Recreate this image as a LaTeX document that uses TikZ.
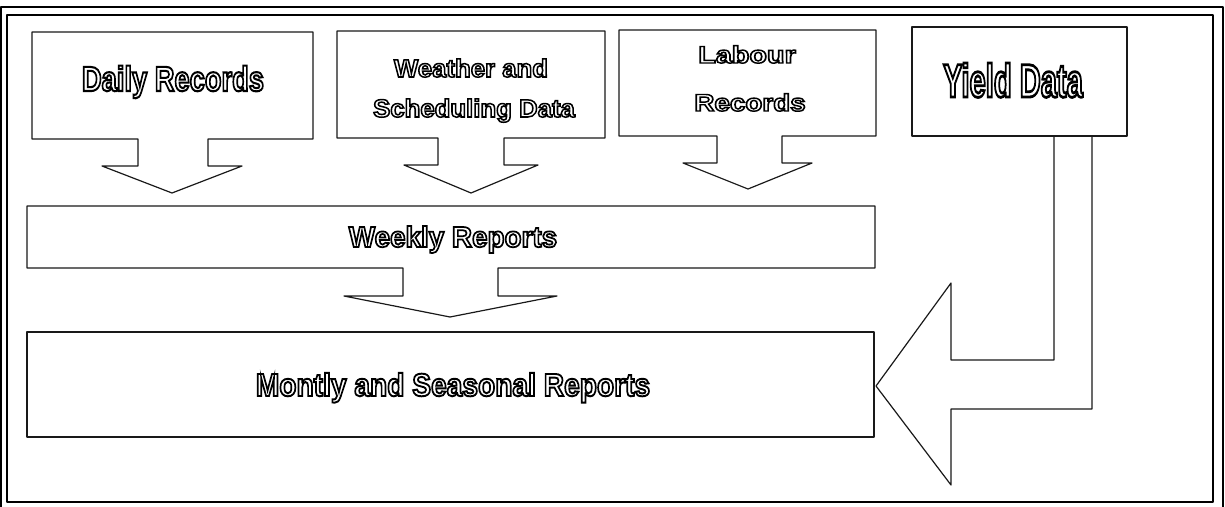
\documentclass[tikz,border=0pt]{standalone}
\usepackage{fontspec}
\usepackage{graphicx}
\usepackage{tkz-euclide}
\newfontfamily\blockfont[FakeBold=6]{Liberation Sans Bold}
\definecolor{LineClr}{rgb}{0.1,0.1,0.1}
\newcommand{\lblfont}[1]{\blockfont\fontsize{#1}{#1}\selectfont}
\newcommand{\narrow}[2]{\special{pdf:bcolor [1] [0]}\scalebox{#1}[1]{#2}\special{pdf:ecolor}}

\begin{document}
\begin{tikzpicture}[x=1pt,y=-1pt,
  lbl/.style={inner sep=0pt,anchor=base}]
\tkzSetUpLine[line width=1.2pt,color=LineClr]
\useasboundingbox (0,0) rectangle (1225,506);

\tkzDefPoints{1/512/Oa,1/7/Ob,1223/7/Oc,1223/512/Od}
\tkzDefPoints{7/15/Ia,1213/15/Ib,1213/502/Ic,7/502/Id}
\tkzDrawPolygon[line width=2pt,color=black](Oa,Ob,Oc,Od)
\tkzDrawPolygon[line width=2pt,color=black](Ia,Ib,Ic,Id)

\tkzDefPoints{32/32/Da,313/32/Db,313/139/Dc,208/139/Dd,208/166/De,242/166/Df,172/193/Dg,102/166/Dh,138/166/Di,138/139/Dj,32/139/Dk}
\tkzDrawPolygon(Da,Db,Dc,Dd,De,Df,Dg,Dh,Di,Dj,Dk)

\tkzDefPoints{337/31/Wa,605/31/Wb,605/138/Wc,504/138/Wd,504/165/We,538/165/Wf,471/193/Wg,404/165/Wh,438/165/Wi,438/138/Wj,337/138/Wk}
\tkzDrawPolygon(Wa,Wb,Wc,Wd,We,Wf,Wg,Wh,Wi,Wj,Wk)

\tkzDefPoints{619/30/La,876/30/Lb,876/136/Lc,782/136/Ld,782/163/Le,812/163/Lf,748/189/Lg,683/163/Lh,717/163/Li,717/136/Lj,619/136/Lk}
\tkzDrawPolygon(La,Lb,Lc,Ld,Le,Lf,Lg,Lh,Li,Lj,Lk)

\tkzDefPoints{912/27/Ya,1127/27/Yb,1127/136/Yc,912/136/Yd}
\tkzDrawPolygon(Ya,Yb,Yc,Yd)

\tkzDefPoints{27/206/Ka,875/206/Kb,875/268/Kc,498/268/Kd,498/296/Ke,557/296/Kf,450/317/Kg,344/296/Kh,403/296/Ki,403/268/Kj,27/268/Kk}
\tkzDrawPolygon(Ka,Kb,Kc,Kd,Ke,Kf,Kg,Kh,Ki,Kj,Kk)

\tkzDefPoints{27/332/Ma,874/332/Mb,874/437/Mc,27/437/Md}
\tkzDrawPolygon(Ma,Mb,Mc,Md)

\tkzDefPoints{1054/136/Ra,1054/360/Rb,951/360/Rc,951/283/Rd,876/386/Re,951/485/Rf,951/409/Rg,1092/409/Rh,1092/136/Ri}
\tkzDrawPolygon(Ra,Rb,Rc,Rd,Re,Rf,Rg,Rh,Ri)

\node[lbl,font=\lblfont{35}] (daily) at (173,91) {\narrow{.78}{Daily Records}};
\node[lbl,font=\lblfont{25}] (weather) at (471,77) {\narrow{1.03}{Weather and}};
\node[lbl,font=\lblfont{25}] (weather2) at (474,117) {\narrow{1.03}{Scheduling Data}};
\node[lbl,font=\lblfont{24}] (labour) at (747,63) {\narrow{1.2}{Labour}};
\node[lbl,font=\lblfont{24}] (labour2) at (750,111) {\narrow{1.16}{Records}};
\node[lbl,font=\lblfont{47}] (yield) at (1013,97) {\narrow{.62}{Yield Data}};
\node[lbl,font=\lblfont{29}] (weekly) at (453,247) {\narrow{.96}{Weekly Reports}};
\node[lbl,font=\lblfont{32}] (monthly) at (453,396) {\narrow{.88}{Montly and Seasonal Reports}};

\end{tikzpicture}
\end{document}
